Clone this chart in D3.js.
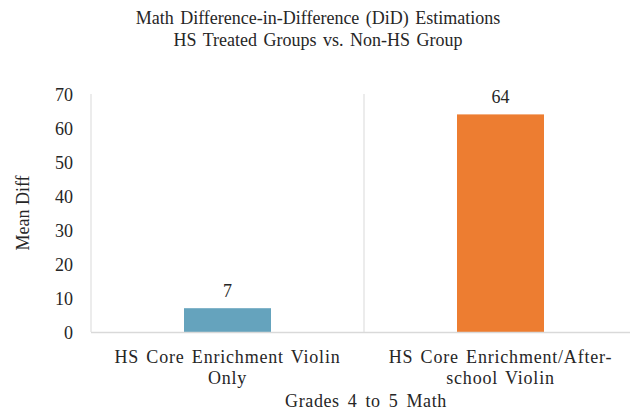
<!DOCTYPE html>
<html><head><meta charset="utf-8">
<script src="https://cdn.jsdelivr.net/npm/d3@7"></script>
<style>body{margin:0;background:#fff;} svg{display:block;} text{font-family:"Times New Roman","Liberation Serif","DejaVu Serif",serif;fill:#262626;}</style>
</head><body>
<svg id="c" width="630" height="410"></svg>
<script>
const categories = [["HS Core Enrichment Violin","Only"],["HS Core Enrichment/After-","school Violin"]];
const values = [7, 64];
const colors = ["#65A3BD", "#ED7D31"];
const yTicks = [0,10,20,30,40,50,60,70];
const titleLines = ["Math Difference-in-Difference (DiD) Estimations","HS Treated Groups vs. Non-HS Group"];
const yTitle = "Mean Diff";
const xTitle = "Grades 4 to 5 Math";

(function(){
const FONT = '"Times New Roman","Liberation Serif","DejaVu Serif",serif';
const svg = d3.select("#c");
const pLeft = 91, pRight = 637, pTop = 94, pBottom = 332;
const x = d3.scaleBand().domain(d3.range(values.length)).range([pLeft, pRight]).paddingInner(0).paddingOuter(0);
const y = d3.scaleLinear().domain([0,70]).range([pBottom, pTop]);
const barW = 87;

svg.append("g").selectAll("line").data(d3.range(values.length+1)).join("line")
  .attr("x1", i => pLeft + i*x.bandwidth()).attr("x2", i => pLeft + i*x.bandwidth())
  .attr("y1", pTop).attr("y2", pBottom).attr("stroke","#d9d9d9").attr("stroke-width",1);

svg.append("g").selectAll("rect").data(values).join("rect")
  .attr("x",(d,i)=>x(i)+x.bandwidth()/2-barW/2).attr("width",barW)
  .attr("y",d=>y(d)).attr("height",d=>pBottom-y(d)).attr("fill",(d,i)=>colors[i]);

svg.append("line").attr("x1",pLeft).attr("x2",pRight).attr("y1",pBottom+0.5).attr("y2",pBottom+0.5).attr("stroke","#d9d9d9").attr("stroke-width",1.5);

const yAxis = d3.axisLeft(y).tickValues(yTicks).tickSize(0).tickPadding(0);
const ga = svg.append("g").attr("transform",`translate(73,0)`).call(yAxis);
ga.attr("font-family",FONT).attr("font-size",18);
ga.select(".domain").remove();
ga.selectAll("text").attr("font-family",FONT).attr("font-size",18).attr("fill","#262626").attr("dy","0.35em");

svg.append("g").selectAll("text").data(values).join("text")
  .attr("x",(d,i)=>x(i)+x.bandwidth()/2).attr("y",d=>y(d)-11)
  .attr("text-anchor","middle").attr("font-size",18).text(d=>d);

const cg = svg.append("g");
categories.forEach((lines,i)=>{
  lines.forEach((t,j)=>{
    cg.append("text").attr("x",x(i)+x.bandwidth()/2).attr("y",363+j*21)
      .attr("text-anchor","middle").attr("font-size",18)
      .attr("letter-spacing",0.8).attr("word-spacing",2).text(t);
  });
});

svg.append("text").attr("x",366).attr("y",407).attr("text-anchor","middle").attr("font-size",18)
  .attr("letter-spacing",0.6).attr("word-spacing",3).text(xTitle);
svg.append("text").attr("transform",`translate(29,213) rotate(-90)`).attr("text-anchor","middle").attr("font-size",18).text(yTitle);

titleLines.forEach((t,j)=>{
  svg.append("text").attr("x",318).attr("y",24+j*22).attr("text-anchor","middle").attr("font-size",18).attr("word-spacing",2).text(t);
});
})();
</script>
</body></html>
